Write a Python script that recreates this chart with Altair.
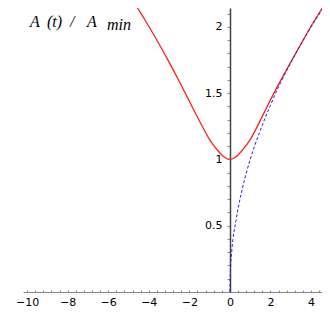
import altair as alt
import pandas as pd

# Red curve A(t)/A_min
red_t = [-5.0, -4.5, -4.0, -3.5, -3.0, -2.5, -2.0, -1.5, -1.0, -0.6, -0.3, 0.0,
         0.3, 0.6, 1.0, 1.5, 2.0, 2.5, 3.0, 3.5, 4.0, 4.5, 5.0]
red_y = [2.25, 2.13, 2.005, 1.873, 1.735, 1.59, 1.44, 1.29, 1.15, 1.068, 1.02, 1.0,
         1.02, 1.068, 1.15, 1.295, 1.45, 1.595, 1.735, 1.87, 2.005, 2.13, 2.25]

# Blue dashed curve
blue_t = [0.0, 0.02, 0.1, 0.3, 0.6, 1.0, 1.5, 2.0, 2.5, 3.0, 3.5, 4.0, 4.5, 5.0]
blue_y = [0.0, 0.14, 0.32, 0.54, 0.77, 1.0, 1.22, 1.41, 1.58, 1.73, 1.87, 2.0, 2.12, 2.24]

x_ticks = [round(-10 + 0.4 * i, 1) for i in range(37)]
y_ticks = [round(0.1 * i, 1) for i in range(1, 22)]

# annotation pieces: text, x (px in plot), y baseline (px in plot)
title_parts = ["A", "(t)", "/", "A", "min"]
title_x = [7, 24, 47, 64, 84]
title_y = [19, 19, 19, 19, 22]

red_df = pd.DataFrame({"t": red_t, "y": red_y})
blue_df = pd.DataFrame({"t": blue_t, "y": blue_y})

W, H = 299, 284
x_dom = [-10.2, 4.54]
y_dom = [0, 2.143]
y_off = -round((0 - x_dom[0]) / (x_dom[1] - x_dom[0]) * W)

x_enc = alt.X("t:Q", scale=alt.Scale(domain=x_dom, nice=False, zero=False),
              axis=alt.Axis(orient="top", offset=-H, values=x_ticks, title=None, grid=False,
                            labelExpr="round(datum.value*10) % 20 == 0 ? format(datum.value, '~g') : ''",
                            labelFlush=False, labelOverlap=False,
                            tickSize=2, tickColor="#888888", domainColor="#888888",
                            labelPadding=-15, labelBaseline="alphabetic",
                            labelFontSize=11, labelFont="DejaVu Sans",
                            labelColor="#000000"))
y_enc = alt.Y("y:Q", scale=alt.Scale(domain=y_dom, nice=False, zero=False),
              axis=alt.Axis(values=y_ticks, title=None, grid=False, offset=y_off,
                            labelExpr="round(datum.value*10) % 5 == 0 ? format(datum.value, '~g') : ''",
                            labelFlush=False, labelOverlap=False,
                            tickSize=3, tickColor="#888888", domainColor="#444444",
                            domainWidth=1.5,
                            labelPadding=5, labelFontSize=11, labelFont="DejaVu Sans",
                            labelColor="#000000"))

red = alt.Chart(red_df).mark_line(color="#ff2020", strokeWidth=1.3, clip=True,
                                  interpolate="natural").encode(x=x_enc, y=y_enc)
blue = alt.Chart(blue_df).mark_line(color="#2828c8", strokeWidth=1, strokeDash=[3, 2],
                                    clip=True, interpolate="monotone").encode(x=x_enc, y=y_enc)

layers = [red, blue]
for s, px, py in zip(title_parts, title_x, title_y):
    layers.append(
        alt.Chart(pd.DataFrame({"s": [s]})).mark_text(
            font="Liberation Serif", fontStyle="italic", fontSize=16, align="left",
            baseline="alphabetic", color="#000000"
        ).encode(x=alt.value(px), y=alt.value(py), text="s:N")
    )

chart = alt.layer(*layers).properties(
    width=W, height=H,
    autosize=alt.AutoSizeParams(type="none"),
    padding={"left": 15, "top": 0, "right": 0, "bottom": 22},
).configure_view(strokeWidth=0)

chart.save("out.html", embed_options={"renderer": "svg", "actions": False})
